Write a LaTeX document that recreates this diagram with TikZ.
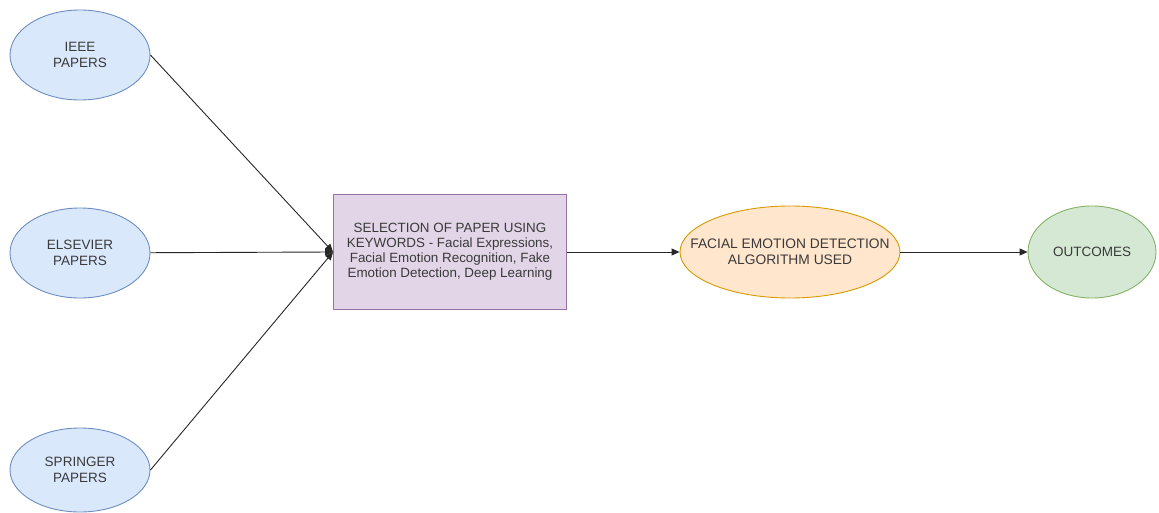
\documentclass[tikz,border=0pt]{standalone}
\usepackage{fontspec}
\setmainfont{Liberation Sans}
\usetikzlibrary{shapes.geometric,arrows.meta}
\definecolor{srcfill}{HTML}{DAE8FC}
\definecolor{srcline}{HTML}{6C8EBF}
\definecolor{selfill}{HTML}{E1D5E7}
\definecolor{selline}{HTML}{9673A6}
\definecolor{algfill}{HTML}{FFE6CC}
\definecolor{algline}{HTML}{D79B00}
\definecolor{outfill}{HTML}{D5E8D4}
\definecolor{outline}{HTML}{82B366}
\definecolor{txt}{HTML}{3A3A3A}
\begin{document}
\begin{tikzpicture}[x=1pt,y=-1pt,
  source/.style={ellipse,draw=srcline,fill=srcfill,line width=0.9pt,minimum width=140pt,minimum height=90pt,inner sep=0pt,align=center,text=txt,font=\fontsize{13.5}{16}\selectfont},
  selbox/.style={rectangle,draw=selline,fill=selfill,line width=0.9pt,minimum width=233pt,minimum height=115pt,align=center,text=txt,font=\fontsize{13.4}{15}\selectfont},
  algo/.style={ellipse,draw=algline,fill=algfill,line width=0.9pt,minimum width=220pt,minimum height=92pt,inner xsep=-23pt,inner ysep=0pt,align=center,text=txt,font=\fontsize{13.8}{16}\selectfont},
  result/.style={ellipse,draw=outline,fill=outfill,line width=0.9pt,minimum width=128pt,minimum height=92pt,inner sep=0pt,align=center,text=txt,font=\fontsize{13.5}{16}\selectfont},
  link/.style={draw=black!85,line width=0.9pt,-{Triangle[length=8pt,width=7pt]}}]
\useasboundingbox (0,0) rectangle (1159,513);
% sources
\node[source] (ieee) at (80,55) {IEEE\\PAPERS};
\node[source] (elsevier) at (80,253) {ELSEVIER\\PAPERS};
\node[source,minimum height=84pt] (springer) at (80,470) {SPRINGER\\PAPERS};
% selection and results
\node[selbox] (select) at (450,252) {SELECTION OF PAPER USING\\KEYWORDS - Facial Expressions,\\Facial Emotion Recognition, Fake\\Emotion Detection, Deep Learning};
\node[algo] (algorithm) at (790,252) {FACIAL EMOTION DETECTION\\ALGORITHM USED};
\node[result] (outcomes) at (1092,252) {OUTCOMES};
% connectors
\draw[link] (ieee.east) -- (select.west);
\draw[link] (elsevier) -- (select.west);
\draw[link] (springer.east) -- (select.west);
\draw[link] (select) -- (algorithm);
\draw[link] (algorithm) -- (outcomes);
\end{tikzpicture}
\end{document}
